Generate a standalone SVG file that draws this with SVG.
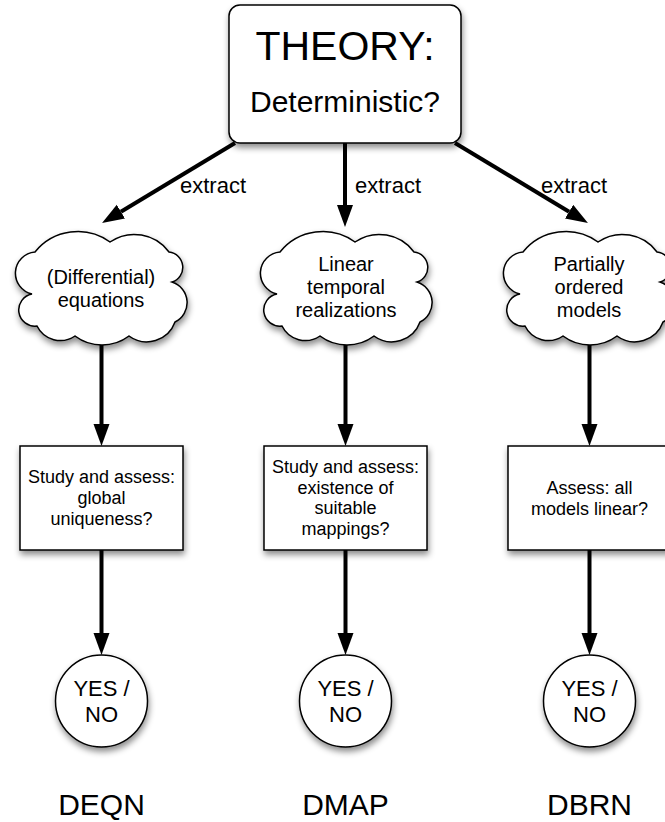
<svg xmlns="http://www.w3.org/2000/svg" width="665" height="822" viewBox="0 0 665 822">
<style>
.shape{fill:#fff;stroke:#000;stroke-width:1.5;filter:url(#sh)}
.t{font-family:"Liberation Sans",Arial,sans-serif;fill:#000;text-anchor:middle}
.c{font-size:20px}
.r{font-size:18px}
.y{font-size:22px}
.lab{font-size:30px}
.ex{font-size:22px;font-family:"Liberation Sans",Arial,sans-serif;fill:#000}
.con{stroke:#000;stroke-width:4;fill:none;marker-end:url(#ah)}
</style>
<defs>
<filter id="sh" x="-20%" y="-20%" width="140%" height="150%">
<feDropShadow dx="1" dy="4" stdDeviation="3" flood-color="#000" flood-opacity="0.45"/>
</filter>
<marker id="ah" markerUnits="userSpaceOnUse" markerWidth="24" markerHeight="18" refX="0" refY="8" orient="auto">
<path d="M0,0 L22,8 L0,16 Z" fill="#000"/>
</marker>
<path id="cloud" d="M-66,-36 A55,55 0 0 1 9,-46 A43,43 0 0 1 68,-36 A15.4,15.4 0 0 1 71,-6 A21.6,21.6 0 0 1 74,34 A30,30 0 0 1 28,48 A45,45 0 0 1 -26,48 A26,26 0 0 1 -64,38 A16.2,16.2 0 0 1 -69,6 A21.3,21.3 0 0 1 -66,-36 Z"/>
</defs>

<g id="connectors">
<line class="con" x1="235" y1="143" x2="120.9" y2="211.7"/>
<line class="con" x1="345" y1="143" x2="345" y2="205"/>
<line class="con" x1="455" y1="143" x2="569.1" y2="211.7"/>
<line class="con" x1="101.5" y1="345" x2="101.5" y2="424"/>
<line class="con" x1="345.5" y1="345" x2="345.5" y2="424"/>
<line class="con" x1="589.5" y1="345" x2="589.5" y2="424"/>
<line class="con" x1="101.5" y1="550" x2="101.5" y2="633"/>
<line class="con" x1="345.5" y1="550" x2="345.5" y2="633"/>
<line class="con" x1="589.5" y1="550" x2="589.5" y2="633"/>
<text class="ex" x="180" y="193">extract</text>
<text class="ex" x="355" y="193">extract</text>
<text class="ex" x="541" y="193">extract</text>
</g>

<g id="theory">
<rect class="shape" x="229" y="5" width="232" height="138" rx="11"/>
<text class="t" x="345" y="60" font-size="41">THEORY:</text>
<text class="t" x="345" y="112" font-size="30">Deterministic?</text>
</g>

<g id="cloud-deqn">
<use href="#cloud" class="shape" transform="translate(101,288)"/>
<text class="t c" x="101" y="284">(Differential)</text>
<text class="t c" x="101" y="307">equations</text>
</g>
<g id="cloud-dmap">
<use href="#cloud" class="shape" transform="translate(346,288)"/>
<text class="t c" x="346" y="271">Linear</text>
<text class="t c" x="346" y="294">temporal</text>
<text class="t c" x="346" y="317">realizations</text>
</g>
<g id="cloud-dbrn">
<use href="#cloud" class="shape" transform="translate(589,288)"/>
<text class="t c" x="589" y="271">Partially</text>
<text class="t c" x="589" y="294">ordered</text>
<text class="t c" x="589" y="317">models</text>
</g>

<g id="rect-deqn">
<rect class="shape" x="20" y="446" width="163" height="104"/>
<text class="t r" x="101.5" y="483">Study and assess:</text>
<text class="t r" x="101.5" y="504">global</text>
<text class="t r" x="101.5" y="525">uniqueness?</text>
</g>
<g id="rect-dmap">
<rect class="shape" x="264" y="446" width="163" height="104"/>
<text class="t r" x="345.5" y="473">Study and assess:</text>
<text class="t r" x="345.5" y="494">existence of</text>
<text class="t r" x="345.5" y="514">suitable</text>
<text class="t r" x="345.5" y="535">mappings?</text>
</g>
<g id="rect-dbrn">
<rect class="shape" x="508" y="446" width="163" height="104"/>
<text class="t r" x="589.5" y="494">Assess: all</text>
<text class="t r" x="589.5" y="515">models linear?</text>
</g>

<g id="yn-deqn">
<circle class="shape" cx="101.5" cy="701" r="46"/>
<text class="t y" x="101.5" y="696">YES /</text>
<text class="t y" x="101.5" y="722">NO</text>
</g>
<g id="yn-dmap">
<circle class="shape" cx="345.5" cy="701" r="46"/>
<text class="t y" x="345.5" y="696">YES /</text>
<text class="t y" x="345.5" y="722">NO</text>
</g>
<g id="yn-dbrn">
<circle class="shape" cx="589.5" cy="701" r="46"/>
<text class="t y" x="589.5" y="696">YES /</text>
<text class="t y" x="589.5" y="722">NO</text>
</g>

<g id="labels">
<text class="t lab" x="101.5" y="815">DEQN</text>
<text class="t lab" x="345.5" y="815">DMAP</text>
<text class="t lab" x="589.5" y="815">DBRN</text>
</g>
</svg>
